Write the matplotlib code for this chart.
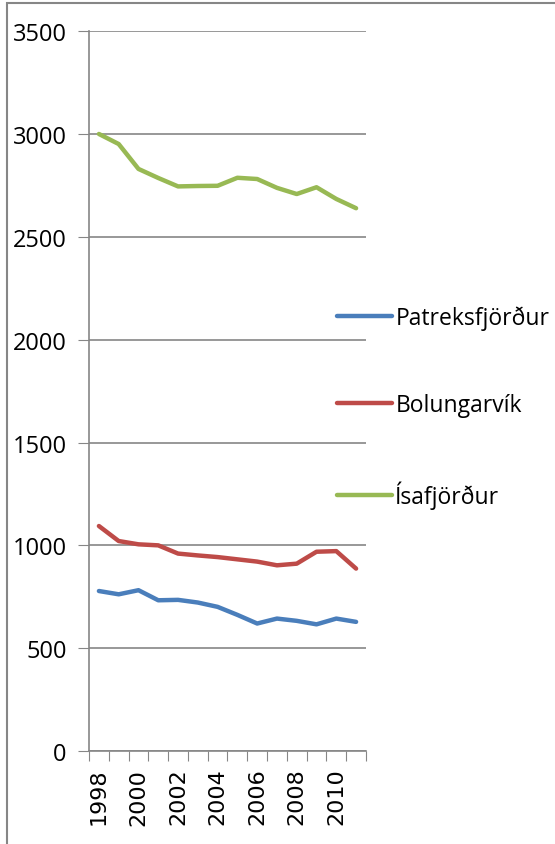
import matplotlib.pyplot as plt
from matplotlib.patches import Rectangle

# Íbúafjöldi 1998-2011
years = list(range(1998, 2012))
patreksfjordur = [778, 762, 782, 733, 735, 722, 701, 662, 620, 644, 633, 616, 644, 628]
bolungarvik = [1094, 1021, 1005, 1000, 960, 951, 943, 932, 921, 903, 911, 969, 972, 887]
isafjordur = [3000, 2951, 2830, 2786, 2745, 2747, 2748, 2787, 2781, 2738, 2708, 2741, 2684, 2639]

series_names = ['Patreksfjörður', 'Bolungarvík', 'Ísafjörður']
series_colors = ['#4A7EBB', '#BE4B48', '#98B954']

plt.rcParams['font.family'] = ['Open Sans', 'DejaVu Sans']

fig = plt.figure(figsize=(5.55, 8.45), dpi=100)
ax = fig.add_axes([0.1604, 0.110, 0.499, 0.852])

x = list(range(len(years)))
for vals, name, col in zip([patreksfjordur, bolungarvik, isafjordur], series_names, series_colors):
    ax.plot(x, vals, color=col, linewidth=3.2, solid_capstyle='round', label=name)

ax.set_ylim(0, 3500)
ax.set_yticks(range(0, 3501, 500))
ax.set_xlim(-0.5, len(years) - 0.5)

# ticks at category boundaries, labels at every second year
ax.set_xticks([i - 0.5 for i in range(len(years) + 1)])
ax.set_xticklabels([])
ax.set_xticks(x[::2], minor=True)
ax.set_xticklabels([str(y) for y in years[::2]], minor=True, rotation=90,
                   fontsize=16, family=['DejaVu Sans'])
ax.tick_params(axis='x', which='minor', length=0, pad=12)
ax.tick_params(axis='x', which='major', length=7, color='#868686', direction='out')
ax.tick_params(axis='y', length=8, color='#868686', labelsize=17, pad=8)

ax.grid(axis='y', color='#868686', linewidth=1.2)
ax.set_axisbelow(True)
for s in ['top', 'right']:
    ax.spines[s].set_visible(False)
for s in ['left', 'bottom']:
    ax.spines[s].set_color('#868686')
    ax.spines[s].set_linewidth(1.2)

leg = ax.legend(loc='upper left', bbox_to_anchor=(0.607, 0.637), bbox_transform=fig.transFigure,
                frameon=False, fontsize=16.5, handlelength=2.4, handletextpad=0.15,
                labelspacing=2.75, borderpad=0, borderaxespad=0)

# outer frame (left and top edges visible)
fig.patches.append(Rectangle((7 / 555, -0.1), 1.2, 1 - 4 / 845 + 0.1, transform=fig.transFigure,
                             fill=False, edgecolor='#868686', linewidth=1.5))

fig.savefig('out.png', dpi=100)
